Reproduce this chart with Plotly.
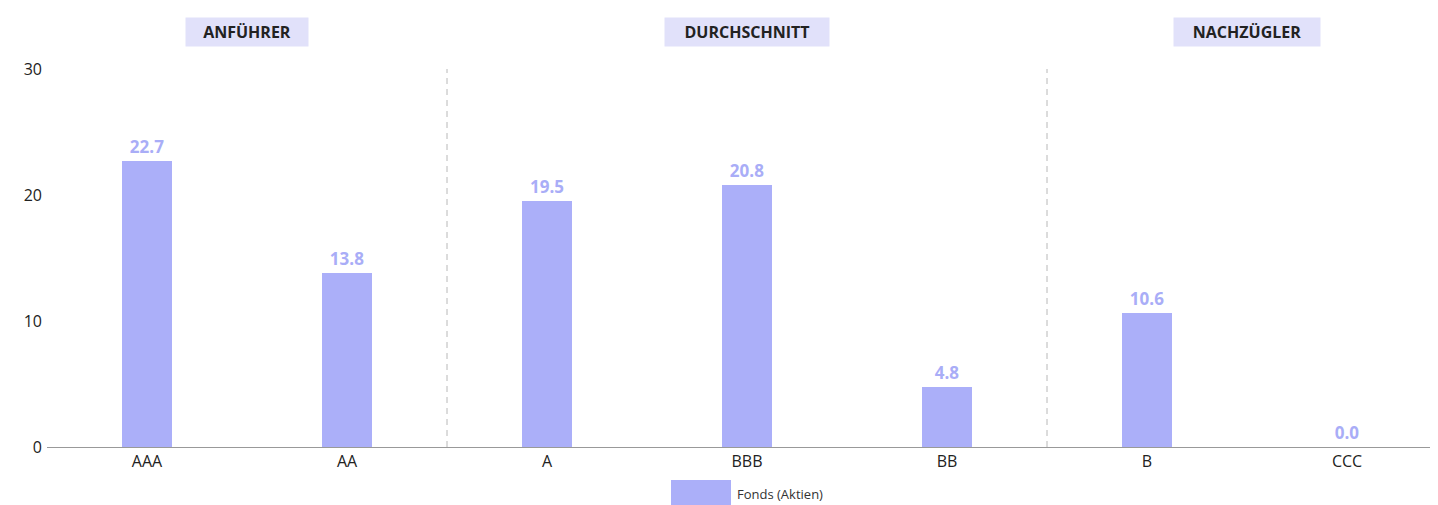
import plotly.graph_objects as go

categories = ["AAA", "AA", "A", "BBB", "BB", "B", "CCC"]
values = [22.7, 13.8, 19.5, 20.8, 4.8, 10.6, 0.0]
series_name = "Fonds (Aktien)"
group_labels = ["ANFÜHRER", "DURCHSCHNITT", "NACHZÜGLER"]
group_centers = [0.5, 3, 5.5]
group_widths = [120, 162, 144]
separators = [1.5, 4.5]
y_ticks = [0, 10, 20, 30]

bar_color = "#abaff9"
label_color = "#a9adf7"
font_family = "Open Sans, Noto Sans, sans-serif"

# page body has an 8px margin; figure sized to fit the window
W, H = 1430, 497
ML, MR, MT, MB = 39, 1, 61, 58
PW, PH = W - ML - MR, H - MT - MB


def px_x(x):  # window pixel -> paper x
    return (x - 8 - ML) / PW


def px_y(y):  # window pixel -> paper y
    return (H - MB - (y - 8)) / PH


fig = go.Figure()
fig.add_trace(go.Bar(
    x=list(range(len(categories))),
    y=values,
    width=0.25,
    marker=dict(color=bar_color, line=dict(width=0)),
    text=[f"{v:.1f}" for v in values],
    textposition="outside",
    textfont=dict(family=font_family, size=17, color=label_color, weight="bold"),
    cliponaxis=False,
    name=series_name,
    showlegend=False,
    hoverinfo="skip",
))

shapes = []
for s in separators:
    shapes.append(dict(type="line", xref="x", yref="paper", x0=s, x1=s, y0=0, y1=1,
                       line=dict(color="#b8b8b8", width=1, dash="6px,5px"), layer="below"))
# legend swatch
shapes.append(dict(type="rect", xref="paper", yref="paper",
                   x0=px_x(671), x1=px_x(731),
                   y0=px_y(505), y1=px_y(480),
                   fillcolor=bar_color, line=dict(width=0)))

annotations = []
for lbl, c, w in zip(group_labels, group_centers, group_widths):
    annotations.append(dict(x=c, y=px_y(32), xref="x", yref="paper",
                            text=f"<b>{lbl}</b>", showarrow=False,
                            font=dict(family=font_family, size=16, color="#222222"),
                            bgcolor="#e1e1fa", width=w, height=26,
                            xanchor="center", yanchor="middle"))
annotations.append(dict(x=px_x(735), y=px_y(494), xref="paper", yref="paper",
                        text=series_name, showarrow=False, xanchor="left", yanchor="middle",
                        font=dict(family=font_family, size=13, color="#333333")))

fig.update_layout(
    width=W, height=H,
    margin=dict(l=ML, r=MR, t=MT, b=MB),
    plot_bgcolor="white", paper_bgcolor="white",
    font=dict(family=font_family, size=16, color="#222222"),
    bargap=0,
    shapes=shapes,
    annotations=annotations,
    showlegend=False,
    xaxis=dict(range=[-0.5, 6.45], tickmode="array", tickvals=list(range(len(categories))),
               ticktext=categories, showgrid=False, zeroline=False,
               showline=True, linecolor="#999999", linewidth=1, ticks="",
               tickfont=dict(size=16, color="#222222")),
    yaxis=dict(range=[0, 30], tickvals=y_ticks, showgrid=False, zeroline=False,
               showline=False, ticks="", ticklabelstandoff=4,
               tickfont=dict(size=16, color="#222222")),
)

fig.write_html("out.html")
